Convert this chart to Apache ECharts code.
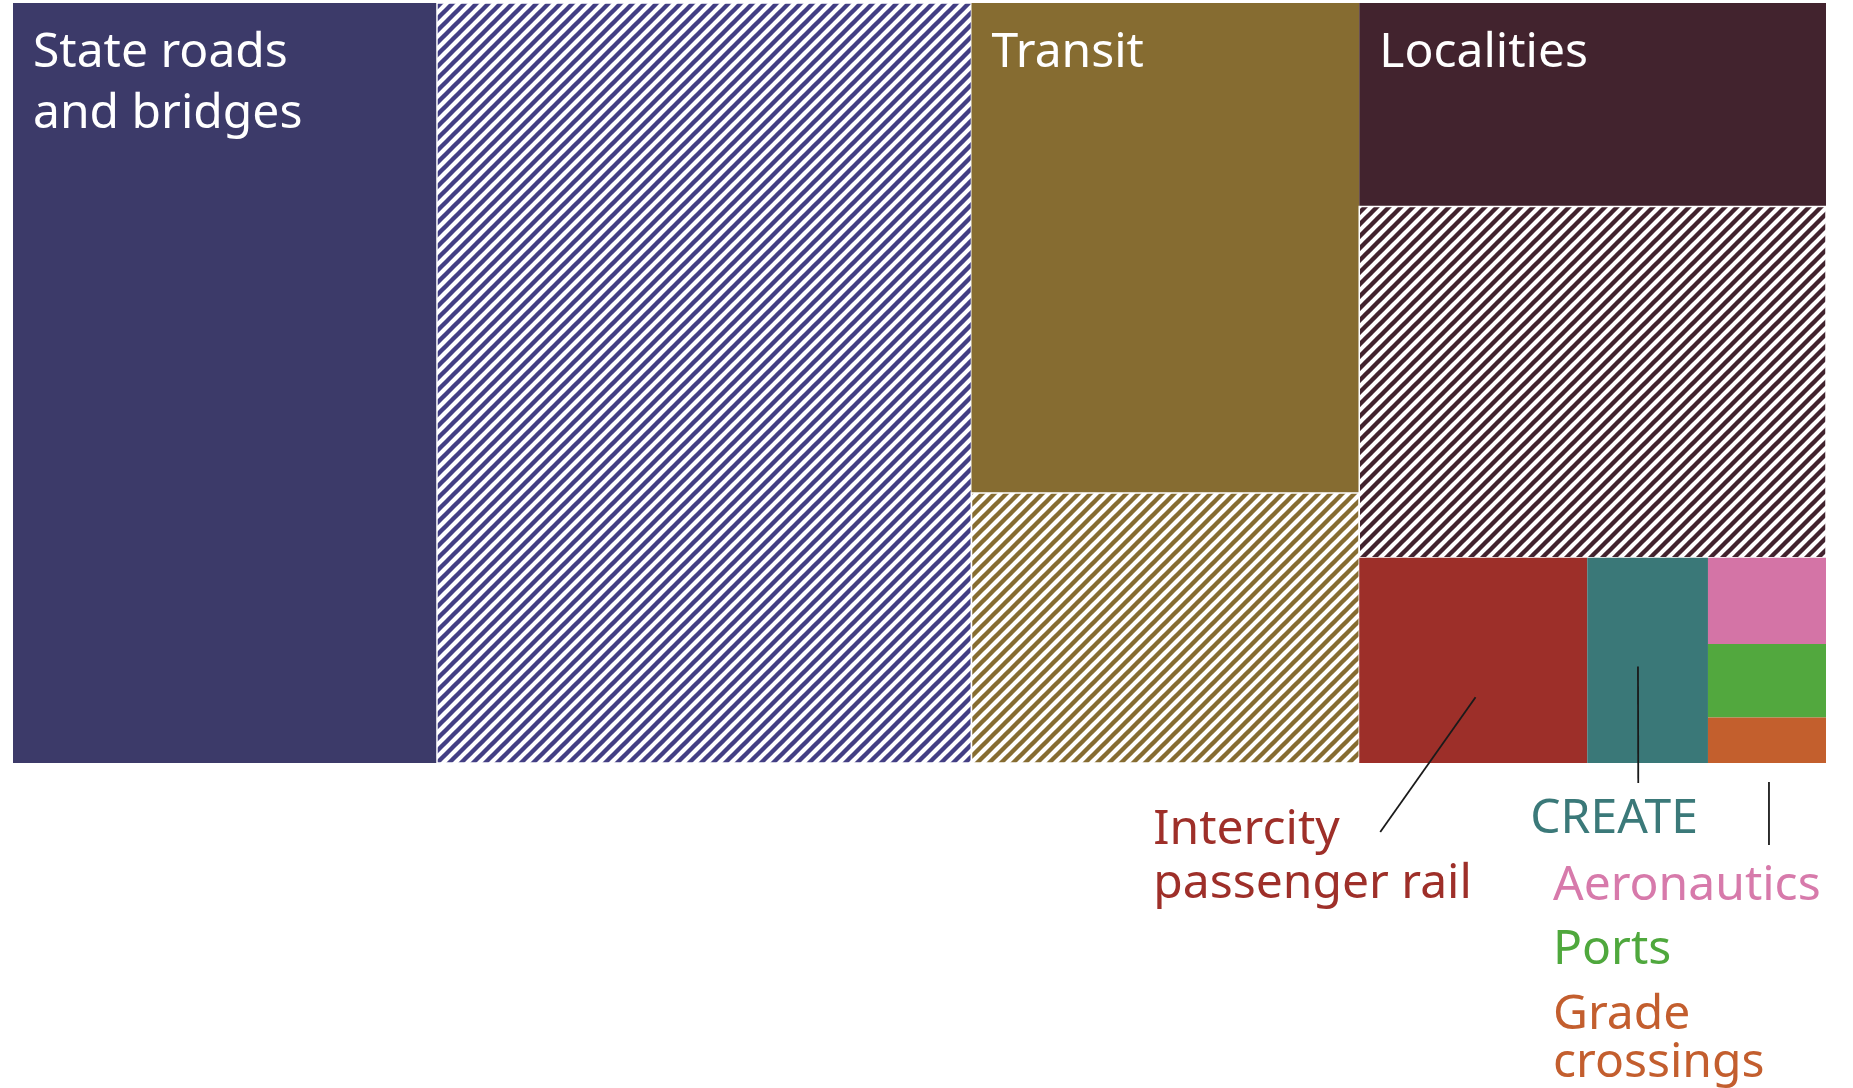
<!DOCTYPE html>
<html>
  <head>
    <meta charset="utf-8">
    <title>Transportation capital plan</title>
    <script src="https://cdn.jsdelivr.net/npm/echarts@6/dist/echarts.min.js"></script>
    <style media="screen">
    html,body{
      height:100%;
      width:100%;
      margin:0px;
      background:#fff;
    }
    #chartDiv{
      width:1853px;
      height:1088px;
    }
    </style>
  </head>
  <body>
    <div id="chartDiv"></div>
    <script type="text/javascript">
      // shares of the plan (% of total)
      // first value = solid part, second = hatched part
      var stateRoads = [23.4, 29.5];
      var transit = [13.8, 7.6];
      var localities = [6.9, 11.9];
      var otherNames = ['Intercity passenger rail', 'CREATE', 'Aeronautics', 'Ports', 'Grade crossings'];
      var otherValues = [3.4, 1.8, 0.74, 0.63, 0.39];

      var fontFamily = '"Noto Sans", sans-serif';
      var fontSize = 48;

      // diagonal stripe tile for the hatched blocks
      function stripes(color){
        var p = 12;
        var c = document.createElement('canvas');
        c.width = p;
        c.height = p;
        var ctx = c.getContext('2d');
        ctx.fillStyle = '#fff';
        ctx.fillRect(0, 0, p, p);
        ctx.strokeStyle = color;
        ctx.lineWidth = 4.4;
        // lines run past the tile so the canvas edge clips them cleanly
        for (var k = -1; k <= 1; k++) {
          ctx.beginPath();
          ctx.moveTo(k * p - p, 2 * p);
          ctx.lineTo(k * p + 2 * p, -p);
          ctx.stroke();
        }
        return {image: c, repeat: 'repeat'};
      }

      function leaf(name, value, color, hatch){
        return {name: name, value: value, color: color, hatch: hatch};
      }

      // h = side by side, v = stacked top to bottom
      var tree = {dir: 'h', children: [
        {dir: 'h', children: [
          leaf('State roads and bridges', stateRoads[0], '#3c3a69'),
          leaf('State roads and bridges ', stateRoads[1], '#433f84', true)
        ]},
        {dir: 'v', children: [
          leaf('Transit', transit[0], '#866c31'),
          leaf('Transit ', transit[1], '#866c31', true)
        ]},
        {dir: 'v', children: [
          leaf('Localities', localities[0], '#42232e'),
          leaf('Localities ', localities[1], '#42232e', true),
          {dir: 'h', children: [
            leaf(otherNames[0], otherValues[0], '#9d2f29'),
            leaf(otherNames[1], otherValues[1], '#3a7878'),
            {dir: 'v', children: [
              leaf(otherNames[2], otherValues[2], '#d474a6'),
              leaf(otherNames[3], otherValues[3], '#52a83e'),
              leaf(otherNames[4], otherValues[4], '#c35f2d')
            ]}
          ]}
        ]}
      ]};

      function total(node){
        if (!node.children) return node.value;
        return node.children.reduce(function(s, n){ return s + total(n); }, 0);
      }

      // slice-and-dice layout in data units: x in [0, sum], y in [0, 1] (1 = top)
      var leaves = [];
      function layout(node, x0, x1, yTop, yBot){
        if (!node.children) {
          leaves.push({node: node, rect: [x0, x1, yTop, yBot]});
          return;
        }
        var s = total(node);
        var pos = node.dir === 'h' ? x0 : yTop;
        node.children.forEach(function(ch){
          var f = total(ch) / s;
          if (node.dir === 'h') {
            var w = (x1 - x0) * f;
            layout(ch, pos, pos + w, yTop, yBot);
            pos += w;
          } else {
            var h = (yTop - yBot) * f;
            layout(ch, x0, x1, pos, pos - h);
            pos -= h;
          }
        });
      }
      var grand = total(tree);
      layout(tree, 0, grand, 1, 0);

      // labels inside the blocks
      var insideLabels = {
        'State roads and bridges': 'State roads\nand bridges',
        'Transit': 'Transit',
        'Localities': 'Localities'
      };

      // callouts below the chart: offsets from block left edge (dx) and chart bottom (dy)
      var callouts = {
        'Intercity passenger rail': {color: '#9e2f29', text: 'Intercity\npassenger rail', dx: -206, dy: 40, lh: 54,
          line: [[0.51, 0.68], [21, 69]]},
        'CREATE': {color: '#3b7979', text: 'CREATE', dx: -57, dy: 29, lh: 54,
          line: [[0.42, 0.53], [51, 20]]},
        'Aeronautics': {color: '#d77aab', text: 'Aeronautics', dx: -155, dy: 91, lh: 64},
        'Ports': {color: '#4fa83d', text: 'Ports', dx: -155, dy: 155, lh: 64},
        'Grade crossings': {color: '#c35e2e', text: 'Grade\ncrossings', dx: -155, dy: 228, lh: 48,
          line: [[0.52, 1], [61, 82], true]}
      };

      function renderItem(params, api){
        var item = leaves[params.dataIndex];
        var n = item.node;
        var tl = api.coord([api.value(0), api.value(2)]);
        var br = api.coord([api.value(1), api.value(3)]);
        var w = br[0] - tl[0], h = br[1] - tl[1];
        var bottom = api.coord([0, 0])[1];
        var kids = [{
          type: 'rect',
          shape: {x: tl[0], y: tl[1], width: w, height: h},
          style: n.hatch ? {fill: stripes(n.color), stroke: '#fff', lineWidth: 1.5} : {fill: n.color}
        }];
        if (insideLabels[n.name]) {
          kids.push({
            type: 'text',
            x: tl[0] + 20,
            y: tl[1] + 20,
            style: {text: insideLabels[n.name], fill: '#fff', fontSize: fontSize, fontFamily: fontFamily,
              lineHeight: 61, verticalAlign: 'top', align: 'left'}
          });
        }
        var c = callouts[n.name];
        if (c) {
          kids.push({
            type: 'text',
            x: tl[0] + c.dx,
            y: bottom + c.dy,
            style: {text: c.text, fill: c.color, fontSize: fontSize, fontFamily: fontFamily,
              lineHeight: c.lh, verticalAlign: 'top', align: 'left'}
          });
          if (c.line) {
            var a = c.line[0], b = c.line[1];
            var x1 = tl[0] + a[0] * w, y1 = tl[1] + a[1] * h;
            if (c.line[2]) { x1 = tl[0] + b[0]; y1 = bottom + 19; }
            kids.push({
              type: 'line',
              shape: {x1: x1, y1: y1, x2: tl[0] + b[0], y2: bottom + b[1]},
              style: {stroke: '#1a1a1a', lineWidth: 1.8}
            });
          }
        }
        return {type: 'group', children: kids};
      }

      var option = {
        animation: false,
        grid: {left: 13, right: 27, top: 3, bottom: 325},
        xAxis: {type: 'value', min: 0, max: grand, show: false},
        yAxis: {type: 'value', min: 0, max: 1, show: false},
        series: [{
          type: 'custom',
          renderItem: renderItem,
          encode: {x: [0, 1], y: [2, 3]},
          data: leaves.map(function(l){ return l.rect; })
        }]
      };

      var chart = echarts.init(document.getElementById('chartDiv'));
      chart.setOption(option);
    </script>
  </body>
</html>
